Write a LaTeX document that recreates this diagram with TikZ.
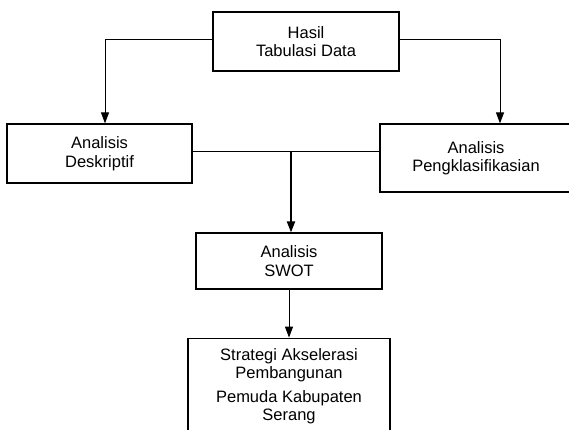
\documentclass[tikz,border=0pt]{standalone}
\usepackage{fontspec}
\setmainfont{Liberation Sans}
\usepackage{tikz}
\usetikzlibrary{positioning,arrows.meta}

\begin{document}
\begin{tikzpicture}[x=1pt,y=-1pt,
        standard/.style={inner sep=0pt,align=center,draw,line width=1.2pt,font=\fontsize{16.5}{18.5}\selectfont},
        alur/.style={line width=1pt,-{Triangle[length=11pt,width=8pt]}}]
        \useasboundingbox (0,0) rectangle (569,430);
        \node[standard, minimum width=186pt, minimum height=59pt] (hasil) at (306,41.5) {Hasil\\Tabulasi Data};
        \node[standard, minimum width=185pt, minimum height=59pt] (deskriptif) at (99.5,153.5) {Analisis\\Deskriptif};
        \node[standard, minimum width=192pt, minimum height=68pt] (klasifikasi) at (476,158) {Analisis\\Pengklasifikasian};
        \node[standard, minimum width=186pt, minimum height=56pt] (swot) at (289,261) {Analisis\\SWOT};
        \node[standard, minimum width=202pt, minimum height=96pt, below=48pt of swot] (strategi) {Strategi Akselerasi\\Pembangunan\\[5pt]Pemuda Kabupaten\\Serang};
        % cabang dari hasil tabulasi
        \draw[alur] ([yshift=1.5pt]hasil.west) -| ([xshift=5.5pt]deskriptif.north);
        \draw[alur] ([yshift=1.5pt]hasil.east) -| ([xshift=24pt]klasifikasi.north);
        % gabungan ke SWOT
        \coordinate (kiri) at ([yshift=1.5pt]deskriptif.east);
        \coordinate (masuk) at ([xshift=2pt]swot.north);
        \coordinate (gabung) at (masuk |- kiri);
        \draw[line width=1pt] (kiri) -- (kiri -| klasifikasi.west);
        \draw[alur, line width=2pt] (gabung) -- (masuk);
        \draw[alur] (swot.south) -- (strategi.north);
\end{tikzpicture}
\end{document}
